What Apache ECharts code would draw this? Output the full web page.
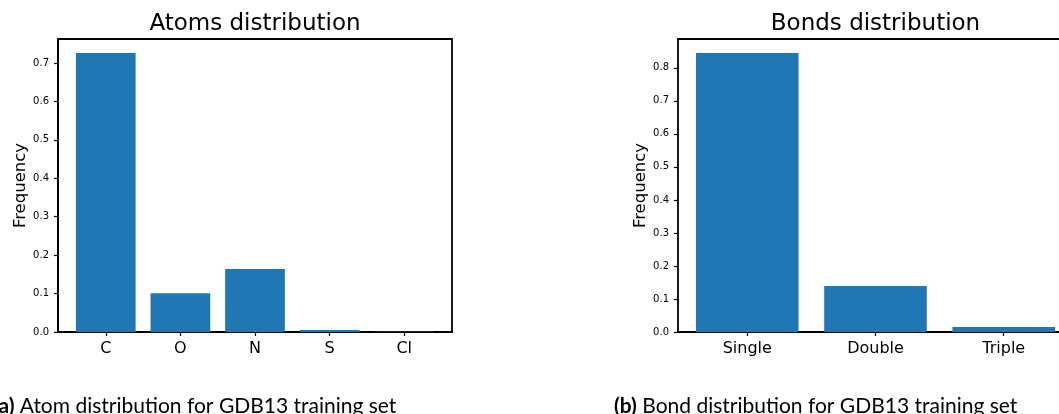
<!DOCTYPE html>
<html>
<head>
<meta charset="utf-8">
<script src="https://cdn.jsdelivr.net/npm/echarts@6/dist/echarts.min.js"></script>
<style>
  html, body { margin: 0; padding: 0; background: #fff; }
  #chart { width: 1059px; height: 414px; }
</style>
</head>
<body>
<div id="chart"></div>
<script>
// Atom frequencies in the GDB13 training set
const atomCategories = ['C', 'O', 'N', 'S', 'Cl'];
const atomFrequency = [0.726, 0.101, 0.164, 0.005, 0.0004];
const atomTicks = [0, 0.1, 0.2, 0.3, 0.4, 0.5, 0.6, 0.7];

// Bond frequencies in the GDB13 training set
const bondCategories = ['Single', 'Double', 'Triple'];
const bondFrequency = [0.845, 0.139, 0.015];
const bondTicks = [0, 0.1, 0.2, 0.3, 0.4, 0.5, 0.6, 0.7, 0.8];

const BAR_COLOR = '#1f77b4';
const FONT = '"DejaVu Sans", sans-serif';
const PAGE_WIDTH = 1059;

// Plot boxes (the bonds box runs past the right edge of the page)
const atomBox = { left: 58, top: 39, width: 394, height: 293 };
const bondBox = { left: 678, top: 39, width: 395, height: 293 };

// matplotlib-like limits: bars are 0.8 wide, 5% margin on each side
function xLimits(n) {
  const span = n - 1 + 0.8;
  return [-0.4 - 0.05 * span, n - 1 + 0.4 + 0.05 * span];
}
function yMax(values) {
  return Math.max(...values) * 1.05;
}

function barRenderer(params, api) {
  const x = api.value(0);
  const y = api.value(1);
  const p0 = api.coord([x - 0.4, y]);
  const p1 = api.coord([x + 0.4, 0]);
  return {
    type: 'rect',
    shape: { x: p0[0], y: p0[1], width: p1[0] - p0[0], height: p1[1] - p0[1] },
    style: { fill: BAR_COLOR }
  };
}

// The visible part of a box: the grid is cut at the page edge and the
// x range is shortened by the same fraction so the scale stays unchanged.
function visibleRange(box, cats) {
  const lim = xLimits(cats.length);
  const visWidth = Math.min(box.width, PAGE_WIDTH - box.left);
  const max = lim[0] + (lim[1] - lim[0]) * visWidth / box.width;
  return { min: lim[0], max: max, width: visWidth };
}

const axisLineStyle = { color: '#000', width: 1.8 };

function makeXAxis(gridIndex, cats, range) {
  const idx = cats.map((c, i) => i);
  return {
    gridIndex: gridIndex,
    type: 'value',
    min: range.min,
    max: range.max,
    axisLine: { show: true, onZero: false, lineStyle: axisLineStyle },
    axisTick: { show: true, customValues: idx, length: 4, lineStyle: { color: '#000', width: 1.2 } },
    axisLabel: {
      customValues: idx,
      formatter: v => cats[Math.round(v)],
      color: '#000', fontSize: 16, fontFamily: FONT, margin: 9
    },
    splitLine: { show: false }
  };
}

// Top edge of a frame, drawn as a bare axis line
function makeTopLine(gridIndex, range) {
  return {
    gridIndex: gridIndex,
    type: 'value',
    position: 'top',
    min: range.min,
    max: range.max,
    axisLine: { show: true, onZero: false, lineStyle: axisLineStyle },
    axisTick: { show: false },
    axisLabel: { show: false },
    splitLine: { show: false }
  };
}

function makeYAxis(gridIndex, values, ticks, nameGap) {
  return {
    gridIndex: gridIndex,
    type: 'value',
    min: 0,
    max: yMax(values),
    name: 'Frequency',
    nameLocation: 'middle',
    nameGap: nameGap,
    nameTextStyle: { color: '#000', fontSize: 16.5, fontFamily: FONT },
    axisLine: { show: true, onZero: false, lineStyle: axisLineStyle },
    axisTick: { show: true, customValues: ticks, length: 4, lineStyle: { color: '#000', width: 1.2 } },
    axisLabel: {
      customValues: ticks,
      formatter: v => v.toFixed(1),
      color: '#000', fontSize: 10, fontFamily: FONT, margin: 9
    },
    splitLine: { show: false }
  };
}

const atomRange = visibleRange(atomBox, atomCategories);
const bondRange = visibleRange(bondBox, bondCategories);

const chart = echarts.init(document.getElementById('chart'), null, { renderer: 'canvas' });

const titleStyle = { fontSize: 23, fontWeight: 'normal', color: '#000', fontFamily: FONT };

chart.setOption({
  backgroundColor: '#fff',
  animation: false,
  title: [
    { text: 'Atoms distribution', left: atomBox.left + atomBox.width / 2, top: 13, textAlign: 'center',
      padding: 0, textStyle: titleStyle },
    { text: 'Bonds distribution', left: bondBox.left + bondBox.width / 2, top: 13, textAlign: 'center',
      padding: 0, textStyle: titleStyle }
  ],
  grid: [
    { left: atomBox.left, top: atomBox.top, width: atomRange.width, height: atomBox.height,
      show: true, borderColor: '#000', borderWidth: 1.8, backgroundColor: 'transparent' },
    { left: bondBox.left, top: bondBox.top, width: bondRange.width, height: bondBox.height, show: false }
  ],
  xAxis: [
    makeXAxis(0, atomCategories, atomRange),
    makeXAxis(1, bondCategories, bondRange),
    makeTopLine(1, bondRange)
  ],
  yAxis: [makeYAxis(0, atomFrequency, atomTicks, 29), makeYAxis(1, bondFrequency, bondTicks, 29)],
  series: [
    { type: 'custom', xAxisIndex: 0, yAxisIndex: 0, renderItem: barRenderer,
      data: atomCategories.map((c, i) => [i, atomFrequency[i]]) },
    { type: 'custom', xAxisIndex: 1, yAxisIndex: 1, renderItem: barRenderer,
      data: bondCategories.map((c, i) => [i, bondFrequency[i]]) }
  ],
  graphic: [
    { type: 'text', left: -7, top: 396,
      style: {
        text: '{b|(a)} Atom distribution for GDB13 training set',
        font: '21px Lato', fill: '#000',
        rich: { b: { fontWeight: 'bold', fontSize: 21, fontFamily: 'Lato' } }
      } },
    { type: 'text', left: 614, top: 396,
      style: {
        text: '{b|(b)} Bond distribution for GDB13 training set',
        font: '21px Lato', fill: '#000',
        rich: { b: { fontWeight: 'bold', fontSize: 21, fontFamily: 'Lato' } }
      } }
  ]
});
</script>
</body>
</html>
